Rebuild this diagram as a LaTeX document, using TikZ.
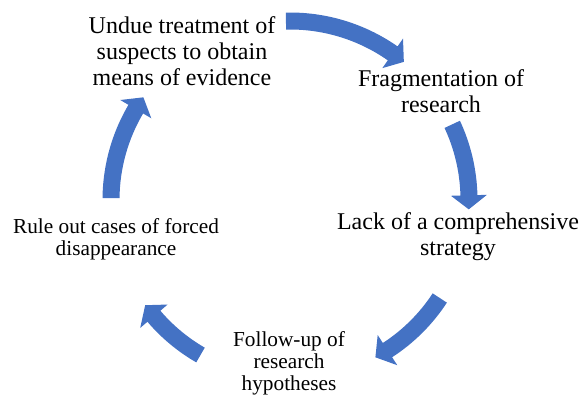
\documentclass[tikz,border=0pt]{standalone}
\usepackage{fontspec}
\setmainfont{Liberation Serif}
\usepackage{tikz}
\usetikzlibrary{calc}
\definecolor{myblue}{RGB}{68,114,196}
\tikzset{
  cycarrow/.style={fill=myblue, draw=none},
  bigtext/.style={align=center, inner sep=0pt,
    font=\fontsize{24}{26}\selectfont},
  smalltext/.style={align=center, inner sep=0pt,
    font=\fontsize{21.3}{22}\selectfont}
}
% curved block arrow on the cycle: start angle, head base angle, tip angle
\newcommand{\cyclearrow}[3]{%
  \fill[cycarrow] ($(ctr)+(#1:187.5)$) arc[start angle=#1, end angle=#2, radius=187.5]
    -- ($(ctr)+(#2:197)$) -- ($(ctr)+(#3:179)$) -- ($(ctr)+(#2:161)$)
    -- ($(ctr)+(#2:170.5)$) arc[start angle=#2, end angle=#1, radius=170.5] -- cycle;}

\begin{document}
\begin{tikzpicture}[x=1pt, y=1pt]
  \useasboundingbox (0,0) rectangle (579,396);
  \coordinate (ctr) at (290,196);

  % Stages of the cycle
  \node[bigtext] (undue) at (182,345) {Undue treatment of\\suspects to obtain\\means of evidence};
  \node[bigtext] (frag) at (441,305) {Fragmentation of\\research};
  \node[bigtext] (lack) at (458,159) {Lack of a comprehensive\\strategy};
  \node[smalltext] (follow) at (289,33) {Follow-up of\\research\\hypotheses};
  \node[smalltext] (ruleout) at (116,157) {Rule out cases of forced\\disappearance};

  % Arrows between the stages
  \cyclearrow{91.3}{55}{50.5}
  \cyclearrow{25}{1.5}{-3}
  \cyclearrow{-33.2}{-57}{-61.5}
  \cyclearrow{-120}{-139.5}{-144}
  \cyclearrow{179.4}{149.5}{145}
\end{tikzpicture}
\end{document}
